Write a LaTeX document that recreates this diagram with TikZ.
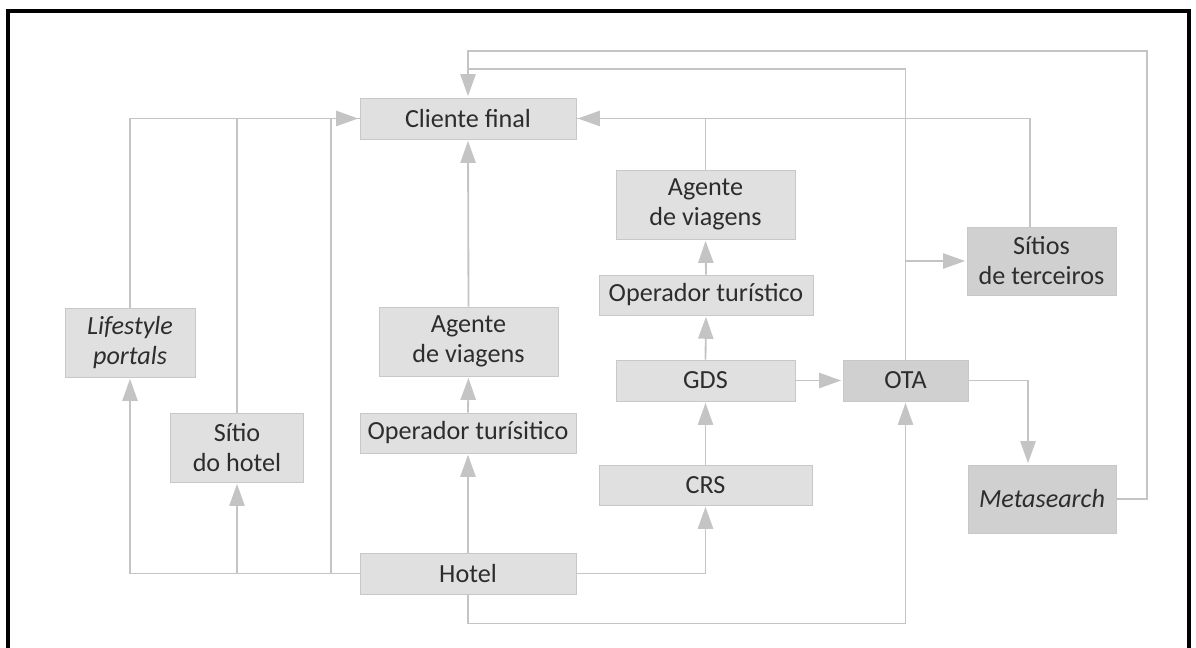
\documentclass[tikz,border=0pt]{standalone}
\usepackage{fontspec}
\setmainfont{Carlito}
\usetikzlibrary{arrows.meta}
\definecolor{chanBox}{RGB}{224,224,224}
\definecolor{chanDark}{RGB}{208,208,208}
\definecolor{chanEdge}{RGB}{200,200,200}
\definecolor{chanLine}{RGB}{196,196,196}
\definecolor{chanText}{RGB}{45,45,45}
\begin{document}
\begin{tikzpicture}[x=0.025cm, y=-0.025cm,
        chan/.style={rectangle, fill=chanBox, draw=chanEdge, line width=0.5pt, inner sep=0pt, align=center, text=chanText, font=\fontsize{18.6}{21.3}\selectfont},
        chandark/.style={chan, fill=chanDark},
        link/.style={draw=chanLine, line width=1.3pt},
        flow/.style={link, -{Triangle[length=0.55cm, width=0.38cm]}, shorten >=1pt}
    ]
        \useasboundingbox (0,0) rectangle (1196,648);
        \draw[line width=0.1cm] (8,648) -- (8,11) -- (1189,11) -- (1189,648);

        \node[chan, minimum width=5.4cm, minimum height=1.03cm] (cliente) at (468,118.5) {Cliente final};
        \node[chan, minimum width=3.25cm, minimum height=1.73cm] (lifestyle) at (130,342.5) {\itshape Lifestyle\\\itshape portals};
        \node[chan, minimum width=3.33cm, minimum height=1.73cm] (sitiohotel) at (237,447.5) {Sítio\\do hotel};
        \node[chan, minimum width=4.48cm, minimum height=1.73cm] (agenteL) at (468.5,341.5) {Agente\\de viagens};
        \node[chan, minimum width=5.4cm, minimum height=1.0cm] (operadorL) at (468,433) {Operador turísitico};
        \node[chan, minimum width=5.4cm, minimum height=1.03cm] (hotel) at (468,573.5) {Hotel};

        \node[chan, minimum width=4.48cm, minimum height=1.73cm] (agenteR) at (705.5,204.5) {Agente\\de viagens};
        \node[chan, minimum width=5.35cm, minimum height=1.0cm] (operadorR) at (706,295) {Operador turístico};
        \node[chan, minimum width=4.48cm, minimum height=1.03cm] (gds) at (705.5,380.5) {GDS};
        \node[chan, minimum width=5.33cm, minimum height=1.0cm] (crs) at (705.5,485) {CRS};
        \node[chandark, minimum width=3.13cm, minimum height=1.03cm] (ota) at (905.5,380.5) {OTA};
        \node[chandark, minimum width=3.73cm, minimum height=1.7cm] (sitios) at (1041.5,261) {Sítios\\de terceiros};
        \node[chandark, minimum width=3.7cm, minimum height=1.7cm] (metasearch) at (1042,499) {\itshape Metasearch};

        \coordinate (mergeB) at (468,69);
        \coordinate (cornerR) at (1147,51);

        \draw[flow] (hotel.west) -| (lifestyle.south);
        \draw[flow] (hotel.west -| sitiohotel.south) -- (sitiohotel.south);
        \draw[flow] (hotel.west) -- ++(-29,0) |- (cliente.west);
        \draw[link] (lifestyle.north) |- (cliente.west);
        \draw[link] (sitiohotel.north) |- (cliente.west);

        \draw[flow] (hotel.north) -- (operadorL.south);
        \draw[flow] (operadorL.north) -- (agenteL.south);
        \draw[flow] (agenteL.north) -- (cliente.south);

        \draw[flow] (hotel.east) -| (crs.south);
        \draw[flow] (crs.north) -- (gds.south);
        \draw[flow] (gds.north) -- (operadorR.south);
        \draw[flow] (operadorR.north) -- (agenteR.south);
        \draw[flow] (agenteR.north) |- (cliente.east);
        \draw[link] ([xshift=-0.28cm]sitios.north) |- (cliente.east);

        \draw[flow] (gds.east) -- (ota.west);
        \draw[flow] (hotel.south) -- ++(0,29) -| (ota.south);
        \draw[flow] (ota.east) -| ([xshift=-0.35cm]metasearch.north);
        \draw[flow] (ota.north |- sitios.west) -- (sitios.west);
        \draw[link] (ota.north) |- (mergeB);
        \draw[flow] (metasearch.east) -| (cornerR) -| (cliente.north);
    \end{tikzpicture}
\end{document}
